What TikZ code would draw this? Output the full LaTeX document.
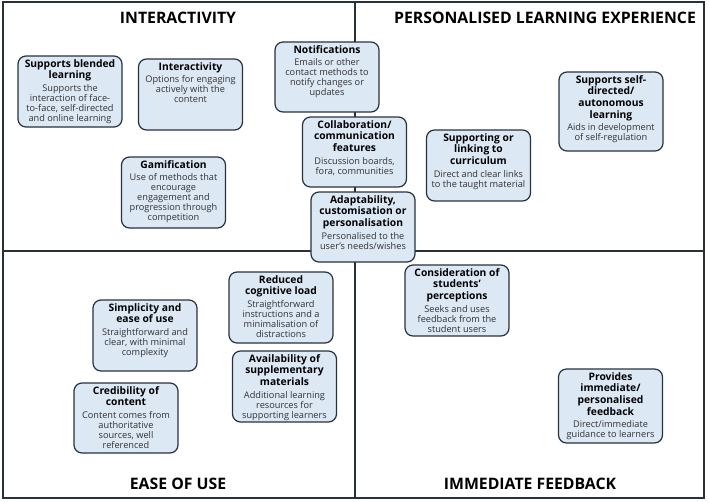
\documentclass[tikz,border=0pt]{standalone}
\usepackage{fontspec}
\setmainfont{Open Sans}
\usetikzlibrary{positioning}
\definecolor{cardfill}{RGB}{221,232,245}
\definecolor{cardline}{RGB}{38,50,62}
\definecolor{framegray}{RGB}{40,48,56}
\definecolor{bodygray}{RGB}{50,50,50}
\newcommand{\cardtext}[3][67]{\parbox[c][#1pt][t]{102pt}{\vspace*{2.5pt}\centering{\fontsize{10.3}{11.6}\selectfont\bfseries #2\par}\vspace{2.5pt}{\fontsize{9.2}{10}\selectfont\color{bodygray}#3\par}}}

\begin{document}
\begin{tikzpicture}[x=1pt, y=-1pt, card/.style={draw=cardline, fill=cardfill, line width=1.2pt, rounded corners=8pt, inner sep=1pt, minimum width=104pt}, heading/.style={font=\fontsize{15.8}{19}\selectfont\bfseries}]
    \useasboundingbox (0,0) rectangle (709,501);
    \draw[framegray, line width=1.2pt] (3,2) rectangle (704,498);
    \draw[framegray, line width=1.2pt] (355,2) -- (355,498);
    \draw[framegray, line width=1.2pt] (3,251) -- (704,251);

    \node[heading] (hinter) at (178,18) {INTERACTIVITY};
    \node[heading] (hpers) at (545,18) {PERSONALISED LEARNING EXPERIENCE};
    \node[heading] (hease) at (178,484) {EASE OF USE};
    \node[heading] (hfeed) at (530,484) {IMMEDIATE FEEDBACK};

    \node[card] (blended) at (70,91.5) {\cardtext[69]{Supports blended\\learning}{Supports the\\interaction of face-\\to-face, self-directed\\and online learning}};
    \node[card] (inter) at (190.5,94.5) {\cardtext[69]{Interactivity}{Options for engaging\\actively with the\\content}};
    \node[card] (gami) at (173.5,192.5) {\cardtext[69]{Gamification}{Use of methods that\\encourage\\engagement and\\progression through\\competition}};
    \node[card] (notif) at (327,77) {\cardtext[68]{Notifications}{Emails or other\\contact methods to\\notify changes or\\updates}};
    \node[card] (collab) at (354.5,152) {\cardtext[68]{Collaboration/\\communication\\features}{Discussion boards,\\fora, communities}};
    \node[card] (adapt) at (363,227) {\cardtext[68]{Adaptability,\\customisation or\\personalisation}{Personalised to the\\user's needs/wishes}};
    \node[card] (curric) at (478.5,165.5) {\cardtext[69]{Supporting or\\linking to\\curriculum}{Direct and clear links\\to the taught material}};
    \node[card] (selfdir) at (611,111.5) {\cardtext[77]{Supports self-\\directed/\\autonomous\\learning}{Aids in development\\of self-regulation}};

    \node[card] (simpl) at (145,335.5) {\cardtext[69]{Simplicity and\\ease of use}{Straightforward and\\clear, with minimal\\complexity}};
    \node[card] (cred) at (126,418) {\cardtext[68]{Credibility of\\content}{Content comes from\\authoritative\\sources, well\\referenced}};
    \node[card] (reduced) at (281,307.5) {\cardtext[69]{Reduced\\cognitive load}{Straightforward\\instructions and a\\minimalisation of\\distractions}};
    \node[card] (avail) at (284.5,386.5) {\cardtext[69]{Availability of\\supplementary\\materials}{Additional learning\\resources for\\supporting learners}};

    \node[card] (consid) at (457,300.5) {\cardtext[69]{Consideration of\\students'\\perceptions}{Seeks and uses\\feedback from the\\student users}};
    \node[card] (provides) at (610.5,406) {\cardtext[72]{Provides\\immediate/\\personalised\\feedback}{Direct/immediate\\guidance to learners}};
\end{tikzpicture}
\end{document}
